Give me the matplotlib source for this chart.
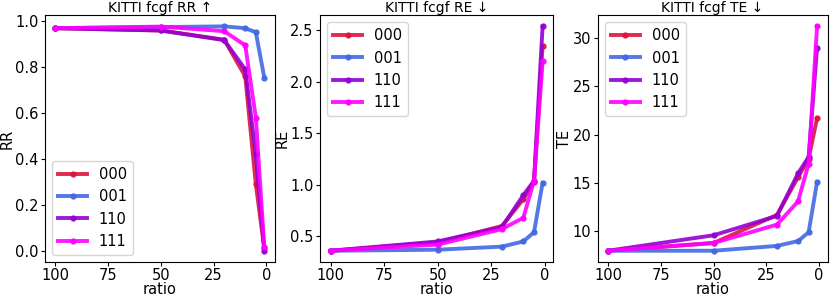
import matplotlib
matplotlib.use('Agg')
import matplotlib.pyplot as plt

ratio = [100, 50, 20, 10, 5, 1]
labels = ['000', '001', '110', '111']
colors = ['crimson', 'royalblue', 'darkviolet', 'magenta']

rr_000 = [0.97, 0.96, 0.92, 0.76, 0.29, 0.01]
rr_001 = [0.97, 0.975, 0.978, 0.97, 0.952, 0.755]
rr_110 = [0.97, 0.96, 0.918, 0.79, 0.42, 0.0]
rr_111 = [0.97, 0.977, 0.957, 0.895, 0.58, 0.015]

re_000 = [0.36, 0.44, 0.60, 0.86, 1.03, 2.35]
re_001 = [0.36, 0.37, 0.40, 0.45, 0.54, 1.02]
re_110 = [0.36, 0.45, 0.59, 0.90, 1.04, 2.54]
re_111 = [0.36, 0.42, 0.57, 0.68, 1.04, 2.20]

te_000 = [8.0, 8.8, 11.7, 15.6, 17.5, 21.7]
te_001 = [8.0, 8.0, 8.5, 9.0, 9.9, 15.1]
te_110 = [8.0, 9.6, 11.6, 16.0, 17.7, 29.0]
te_111 = [8.0, 8.8, 10.7, 13.1, 17.0, 31.2]

panels = [
    ('KITTI fcgf RR ↑', 'RR', [rr_000, rr_001, rr_110, rr_111], 'lower left', [0.0, 0.2, 0.4, 0.6, 0.8, 1.0]),
    ('KITTI fcgf RE ↓', 'RE', [re_000, re_001, re_110, re_111], 'upper left', [0.5, 1.0, 1.5, 2.0, 2.5]),
    ('KITTI fcgf TE ↓', 'TE', [te_000, te_001, te_110, te_111], 'upper left', [10, 15, 20, 25, 30]),
]
positions = [
    [0.0540, 0.118, 0.277, 0.831],
    [0.3855, 0.118, 0.281, 0.831],
    [0.7200, 0.118, 0.277, 0.831],
]

fs = 10.5
fig = plt.figure(figsize=(8.3, 2.97), dpi=100)
for (title, ylab, series, loc, yt), pos in zip(panels, positions):
    ax = fig.add_axes(pos)
    for ys, lab, c in zip(series, labels, colors):
        ax.plot(ratio, ys, '-o', color=c, label=lab, lw=2.8, ms=3.5, alpha=0.9)
    ax.invert_xaxis()
    ax.set_xticks([100, 75, 50, 25, 0])
    ax.set_yticks(yt)
    ax.tick_params(labelsize=fs, length=3, pad=1.5)
    ax.set_title(title, fontsize=10, pad=2)
    ax.set_xlabel('ratio', fontsize=10.5, labelpad=-1)
    ax.set_ylabel(ylab, fontsize=fs, labelpad=0.5)
    ax.legend(loc=loc, fontsize=fs)

fig.savefig('out.png', dpi=100)
